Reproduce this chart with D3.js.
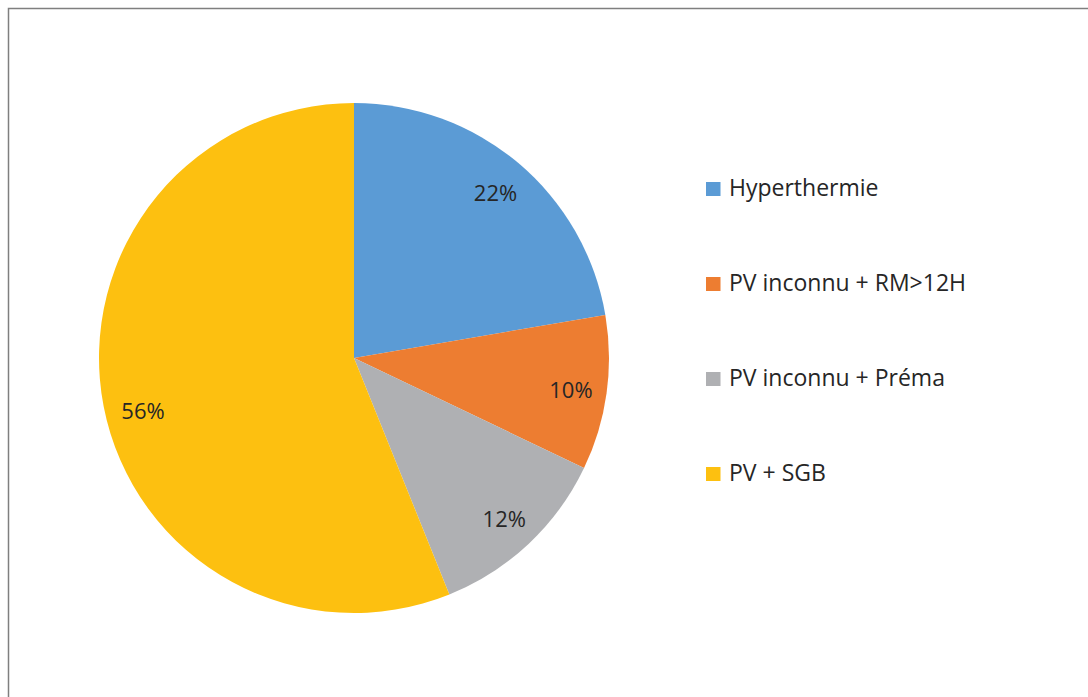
<!DOCTYPE html>
<html>
<head>
<meta charset="utf-8">
<script src="https://cdn.jsdelivr.net/npm/d3@7"></script>
<style>
  body { margin: 0; background: #fff; }
  text { font-family: "Open Sans", "Liberation Sans", sans-serif; }
</style>
</head>
<body>
<div id="chart"></div>
<script>
const categories = ["Hyperthermie", "PV inconnu + RM>12H", "PV inconnu + Préma", "PV + SGB"];
// labels show them rounded
const values = [22.3, 9.8, 11.8, 56.1];
const colors = ["#5B9BD5", "#ED7D31", "#AFB0B3", "#FDC010"];

const width = 1088, height = 697;
const svg = d3.select("#chart").append("svg")
    .attr("width", width)
    .attr("height", height);

// Outline (runs off right and bottom like the source)
svg.append("rect")
    .attr("x", 8.5).attr("y", 8.5)
    .attr("width", width + 20).attr("height", height + 20)
    .attr("fill", "none")
    .attr("stroke", "#7f7f7f")
    .attr("stroke-width", 1.5);

const cx = 354, cy = 358, r = 255;
const g = svg.append("g").attr("transform", `translate(${cx},${cy})`);

const pie = d3.pie().sort(null).value(d => d)(values);
const arc = d3.arc().innerRadius(0).outerRadius(r);
const labelArc = d3.arc().innerRadius(218).outerRadius(218);
const color = d3.scaleOrdinal().domain(categories).range(colors);
const pct = d3.format(".0f");

g.selectAll("path")
    .data(pie)
    .join("path")
    .attr("d", arc)
    .attr("fill", (d, i) => color(categories[i]));

// excel "best fit" pushes the big slice's label down a bit
const nudge = d => d.data > 50 ? [3, 12] : [1, 2];

g.selectAll("text.lbl")
    .data(pie)
    .join("text")
    .attr("class", "lbl")
    .attr("transform", d => {
        const [x, y] = labelArc.centroid(d);
        const [nx, ny] = nudge(d);
        return `translate(${x + nx},${y + ny})`;
    })
    .attr("text-anchor", "middle")
    .attr("dy", "0.36em")
    .attr("fill", "#262626")
    .style("font-size", "22px")
    .text(d => pct(d.data) + "%");

// Legend
const legend = svg.append("g").attr("transform", "translate(706,0)");
const ly = d3.scalePoint().domain(categories).range([189, 474]);

legend.selectAll("rect")
    .data(categories)
    .join("rect")
    .attr("x", 0)
    .attr("y", d => ly(d) - 7)
    .attr("width", 14.5)
    .attr("height", 14)
    .attr("fill", d => color(d));

legend.selectAll("text")
    .data(categories)
    .join("text")
    .attr("x", 23)
    .attr("y", d => ly(d) + 7)
    .attr("fill", "#262626")
    .style("font-size", "23px")
    .text(d => d);
</script>
</body>
</html>
